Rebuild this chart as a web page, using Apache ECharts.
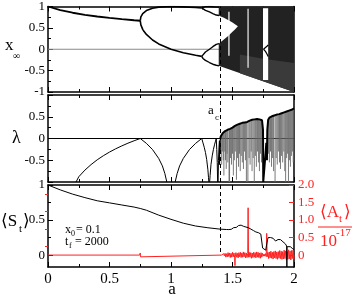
<!DOCTYPE html>
<html><head><meta charset="utf-8">
<script src="https://cdn.jsdelivr.net/npm/echarts@6/dist/echarts.min.js"></script>
<style>html,body{margin:0;padding:0;background:#fff}#c{width:355px;height:296px}</style>
</head><body><div id="c"></div>
<script>
// ---------- tick labels ----------
const xTicks = [0, 0.5, 1, 1.5, 2];
const y1Ticks = [-1, -0.5, 0, 0.5, 1];
const y2Ticks = [-0.5, 0, 0.5];
const y3Ticks = [0, 0.5, 1];
const y3RightTicks = [0, 0.5, 1, 1.5, 2];
const aCritical = 1.401;

// ---------- panel 1: bifurcation diagram [a, x] ----------
const fixedBranch = [[0,1],[0.1,0.916],[0.2,0.854],[0.3,0.805],[0.4,0.766],[0.5,0.732],[0.6,0.703],[0.7,0.678],[0.75,0.667]];
const p2Upper = [[0.75,0.667],[0.755,0.756],[0.76,0.789],[0.77,0.833],[0.78,0.863],[0.8,0.904],[0.85,0.96],[0.9,0.986],[1.0,1.0],[1.1,0.992],[1.2,0.976],[1.25,0.966]];
const p2Lower = [[0.75,0.667],[0.755,0.569],[0.76,0.526],[0.77,0.466],[0.78,0.419],[0.8,0.346],[0.85,0.216],[0.9,0.125],[1.0,0.0],[1.1,-0.083],[1.2,-0.142],[1.25,-0.166]];
const p4a = [[1.25,0.966],[1.26,0.985],[1.28,0.997],[1.3125,1.0],[1.34,0.995],[1.368,0.985],[1.39,0.99]];
const p4b = [[1.25,0.966],[1.26,0.945],[1.28,0.91],[1.3125,0.872],[1.34,0.835],[1.368,0.80],[1.39,0.79]];
const p4c = [[1.25,-0.166],[1.26,-0.12],[1.28,-0.065],[1.3125,0.0],[1.34,0.06],[1.368,0.115],[1.39,0.13]];
const p4d = [[1.25,-0.166],[1.26,-0.215],[1.28,-0.26],[1.3125,-0.31],[1.34,-0.35],[1.368,-0.375],[1.39,-0.39]];
const chaosOutline = [[1.388,1.0],[2.0,1.0],[2.0,-1.0],[1.388,-0.388],[1.388,0.13],[1.40,0.16],[1.43,0.23],[1.46,0.30],[1.50,0.41],[1.52,0.46],[1.544,0.54],[1.52,0.585],[1.50,0.625],[1.46,0.69],[1.43,0.737],[1.40,0.77],[1.388,0.79]];
const sparseRegion = [[1.56,-0.12],[1.75,-0.22],[2.0,-0.32],[2.0,-1.0],[1.56,-0.56]];
const window1 = [[1.466,0.88],[1.476,0.88],[1.476,-0.15],[1.466,-0.15]];
const window2 = [[1.622,0.95],[1.631,0.95],[1.631,-0.43],[1.622,-0.43]];
const window3 = [[1.748,0.96],[1.79,0.96],[1.79,-0.72],[1.748,-0.72]];
const p3ForkUp = [[1.752,0.0],[1.768,0.03],[1.78,0.07],[1.79,0.1]];
const p3ForkDown = [[1.752,0.0],[1.768,-0.05],[1.78,-0.11],[1.79,-0.17]];

// ---------- panel 2: Lyapunov exponent [a, lambda] ----------
const lamFixed = [[0.228,-1.0],[0.25,-0.88],[0.3,-0.727],[0.35,-0.6],[0.4,-0.49],[0.45,-0.396],[0.5,-0.312],[0.55,-0.237],[0.6,-0.17],[0.65,-0.108],[0.7,-0.052],[0.75,0]];
const lamP2a = [[0.75,0],[0.76,-0.02],[0.8,-0.112],[0.85,-0.255],[0.9,-0.458],[0.93,-0.63],[0.95,-0.805],[0.966,-1.0]];
const lamP2b = [[1.034,-1.0],[1.05,-0.805],[1.07,-0.63],[1.1,-0.458],[1.15,-0.255],[1.2,-0.112],[1.25,0]];
const lamP4a = [[1.25,0],[1.26,-0.1],[1.27,-0.2],[1.28,-0.32],[1.29,-0.48],[1.30,-0.72],[1.305,-0.9],[1.308,-1.0]];
const lamP4b = [[1.314,-1.0],[1.318,-0.85],[1.325,-0.6],[1.335,-0.4],[1.345,-0.25],[1.355,-0.13],[1.362,-0.06],[1.368,0],[1.372,-0.25],[1.376,-0.55],[1.379,-1.0]];
const lamEdge = [[1.383,-1.0],[1.386,-0.5],[1.39,-0.2],[1.394,-0.05],[1.395,-0.6],[1.396,-0.1],[1.398,-0.3],[1.401,0.0]];
const lamEnvelope = [[1.401,0.0],[1.405,0.05],[1.41,0.08],[1.415,0.09],[1.42,0.12],[1.425,0.12],[1.43,0.15],[1.435,0.14],[1.44,0.17],[1.45,0.18],[1.46,0.2],[1.47,0.21],[1.48,0.22],[1.49,0.24],[1.50,0.25],[1.51,0.27],[1.52,0.29],[1.53,0.3],[1.54,0.32],[1.55,0.32],[1.56,0.34],[1.57,0.34],[1.58,0.36],[1.59,0.36],[1.60,0.37],[1.61,0.39],[1.62,0.38],[1.63,0.4],[1.64,0.41],[1.65,0.41],[1.66,0.43],[1.67,0.42],[1.68,0.44],[1.69,0.43],[1.70,0.45],[1.71,0.44],[1.72,0.44],[1.73,0.43],[1.74,0.42],[1.745,0.4],[1.748,0.2],[1.75,-1.0],[1.765,-1.0],[1.77,-0.3],[1.775,-0.1],[1.78,-0.5],[1.783,0.2],[1.79,0.43],[1.80,0.48],[1.81,0.49],[1.82,0.51],[1.83,0.51],[1.84,0.53],[1.85,0.53],[1.86,0.55],[1.87,0.55],[1.88,0.56],[1.89,0.57],[1.90,0.58],[1.91,0.59],[1.92,0.6],[1.93,0.61],[1.94,0.62],[1.95,0.63],[1.96,0.64],[1.97,0.66],[1.98,0.66],[1.99,0.68],[2.0,0.69]];
// spikes: [a, top, bottom]
const lamSpikes = [[1.404,0.04,-0.35],[1.412,0.09,-0.6],[1.418,0.1,-0.3],[1.425,0.12,-0.5],[1.430,0.14,-0.85],[1.437,0.15,-0.3],[1.443,0.16,-0.5],[1.449,0.18,-0.7],[1.456,0.19,-0.35],[1.462,0.2,-0.55],[1.472,0.21,-1.0],[1.476,0.21,-1.0],[1.484,0.23,-0.45],[1.492,0.24,-0.6],[1.500,0.25,-0.35],[1.507,0.26,-0.85],[1.515,0.28,-0.5],[1.523,0.3,-0.3],[1.532,0.31,-0.95],[1.541,0.32,-0.45],[1.549,0.32,-0.65],[1.557,0.33,-0.35],[1.563,0.34,-0.75],[1.571,0.34,-0.4],[1.580,0.35,-0.55],[1.589,0.36,-0.7],[1.597,0.37,-0.3],[1.605,0.38,-0.5],[1.613,0.38,-1.0],[1.625,0.39,-1.0],[1.635,0.4,-0.45],[1.643,0.41,-0.6],[1.652,0.41,-0.3],[1.659,0.42,-0.75],[1.668,0.42,-0.45],[1.677,0.43,-1.0],[1.686,0.43,-0.4],[1.694,0.44,-0.65],[1.703,0.44,-0.3],[1.711,0.44,-0.55],[1.719,0.44,-0.75],[1.728,0.43,-0.35],[1.736,0.42,-0.55],[1.792,0.44,-0.35],[1.800,0.48,-0.55],[1.809,0.49,-0.3],[1.817,0.5,-0.65],[1.826,0.51,-0.45],[1.834,0.52,-0.75],[1.846,0.53,-1.0],[1.855,0.54,-0.45],[1.864,0.54,-0.6],[1.873,0.55,-0.3],[1.882,0.56,-0.55],[1.890,0.57,-0.7],[1.899,0.58,-0.4],[1.908,0.59,-0.55],[1.917,0.6,-0.3],[1.925,0.6,-0.75],[1.932,0.61,-1.0],[1.940,0.62,-0.45],[1.948,0.63,-0.35],[1.955,0.64,-1.0],[1.963,0.65,-0.5],[1.971,0.66,-0.65],[1.979,0.67,-0.4],[1.987,0.68,-0.3],[1.994,0.68,-0.55]];

// ---------- panel 3: <S_t> (left axis) and <A_t>/1e-17 (right axis) ----------
const sMean = [[0,1],[0.1,0.93],[0.2,0.87],[0.3,0.82],[0.4,0.775],[0.5,0.745],[0.6,0.715],[0.7,0.685],[0.75,0.665],[0.8,0.64],[0.9,0.57],[1.0,0.51],[1.1,0.455],[1.2,0.415],[1.3,0.39],[1.4,0.37],
[1.45,0.365],[1.46,0.372],[1.47,0.364],[1.48,0.377],[1.49,0.368],[1.50,0.386],[1.51,0.392],[1.52,0.40],[1.53,0.394],[1.54,0.412],[1.55,0.422],[1.56,0.413],[1.57,0.427],[1.58,0.418],[1.59,0.41],[1.60,0.417],[1.61,0.40],[1.62,0.406],[1.63,0.39],[1.64,0.386],[1.65,0.37],[1.66,0.366],[1.67,0.35],[1.68,0.347],[1.69,0.33],[1.70,0.336],[1.71,0.32],[1.72,0.312],[1.73,0.30],[1.74,0.29],[1.745,0.1],[1.75,0.08],[1.76,0.075],[1.77,0.07],[1.78,0.08],[1.785,0.22],[1.79,0.25],[1.80,0.262],[1.81,0.25],[1.82,0.256],[1.83,0.24],[1.84,0.22],[1.85,0.20],[1.86,0.215],[1.87,0.222],[1.88,0.21],[1.89,0.221],[1.90,0.20],[1.91,0.19],[1.92,0.17],[1.93,0.16],[1.94,0.13],[1.942,-0.17],[1.944,0.12],[1.95,0.11],[1.96,0.10],[1.97,0.12],[1.98,0.10],[1.99,0.09],[2.0,0.08]];
const aMean = [[0,0],[0.745,0],[0.75,0.06],[0.752,-0.05],[0.755,0],[1.41,0],
[1.416,0.02],[1.422,-0.03],[1.428,0.04],[1.434,-0.02],[1.440,0.05],[1.446,-0.06],[1.452,0.04],[1.458,-0.05],[1.464,0.07],[1.470,-0.04],[1.476,0.06],[1.482,-0.07],[1.488,0.05],[1.494,-0.06],[1.500,0.08],[1.506,-0.05],[1.512,0.06],[1.518,-0.08],[1.520,-0.3],[1.522,-0.05],[1.528,0.07],[1.534,-0.06],[1.540,0.05],[1.546,-0.08],[1.552,0.07],[1.558,-0.05],[1.564,0.08],[1.570,-0.07],[1.576,0.06],[1.582,-0.06],[1.588,0.09],[1.594,-0.05],[1.600,0.07],[1.606,-0.08],[1.612,0.06],[1.618,-0.07],[1.624,0.05],[1.627,1.35],[1.630,-0.06],[1.636,0.08],[1.642,-0.06],[1.648,0.07],[1.654,-0.09],[1.660,0.06],[1.666,-0.07],[1.672,0.08],[1.678,-0.06],[1.684,0.07],[1.690,-0.08],[1.696,0.09],[1.702,-0.06],[1.708,0.08],[1.714,-0.07],[1.720,0.06],[1.726,-0.09],[1.732,0.07],[1.738,-0.06],[1.744,0.05],[1.750,-0.03],[1.756,0.03],[1.762,-0.03],[1.768,0.04],[1.774,-0.04],[1.778,0.62],[1.782,-0.05],[1.788,0.08],[1.794,-0.1],[1.800,0.09],[1.806,-0.08],[1.812,0.11],[1.818,-0.09],[1.824,0.08],[1.830,-0.11],[1.836,0.1],[1.842,-0.08],[1.848,0.12],[1.854,-0.1],[1.860,0.09],[1.866,-0.12],[1.872,0.1],[1.878,-0.09],[1.884,0.13],[1.890,-0.1],[1.896,0.11],[1.902,-0.12],[1.908,0.1],[1.914,-0.11],[1.920,0.14],[1.926,-0.1],[1.932,0.12],[1.938,-0.13],[1.944,0.1],[1.950,-0.12],[1.956,0.15],[1.962,-0.11],[1.968,0.12],[1.974,-0.14],[1.980,0.13],[1.986,-0.1],[1.992,0.14],[1.998,-0.12],[2.0,0.0]];

// ---------- build chart ----------
const FONT = "'Liberation Serif', 'DejaVu Serif', serif";
const RED = '#ff2020';
const chart = echarts.init(document.getElementById('c'), null, {renderer: 'canvas'});

const grids = [
  {left: 48, top: 5, width: 246, height: 87},
  {left: 48, top: 95, width: 246, height: 87},
  {left: 48, top: 185, width: 246, height: 82}
];
function xAx(gi, pos, labels) {
  return {type: 'value', gridIndex: gi, position: pos, min: 0, max: 2, interval: 0.5,
    axisLine: {show: true, onZero: false, lineStyle: {color: '#000', width: 1.5}},
    axisTick: {show: true, inside: true, length: 5, lineStyle: {color: '#000'}},
    minorTick: {show: true, splitNumber: 2, length: 3, lineStyle: {color: '#000'}},
    splitLine: {show: false}, minorSplitLine: {show: false},
    axisLabel: {show: labels, margin: 5, fontFamily: FONT, fontSize: 15, color: '#000',
      formatter: v => xTicks.includes(v) ? String(v) : ''}};
}
function yAx(gi, pos, min, max, opts) {
  return Object.assign({type: 'value', gridIndex: gi, position: pos, min: min, max: max,
    axisLine: {show: true, onZero: false, lineStyle: {color: '#000', width: 1.5}},
    splitLine: {show: false}}, opts);
}
const yLabelStyle = {margin: 3, fontFamily: FONT, fontSize: 13, color: '#000'};

const xAxis = [xAx(0,'bottom',false), xAx(0,'top',false), xAx(1,'bottom',false), xAx(1,'top',false), xAx(2,'bottom',true), xAx(2,'top',false)];
const yAxis = [
  yAx(0,'left',-1,1,{interval:0.5, axisTick:{inside:true,length:5,lineStyle:{color:'#000'}}, minorTick:{show:true,splitNumber:2,length:3,lineStyle:{color:'#000'}},
     axisLabel:Object.assign({formatter: v => y1Ticks.includes(v) ? String(v) : ''}, yLabelStyle)}),
  yAx(1,'left',-1,1,{interval:0.5, axisTick:{inside:true,length:5,lineStyle:{color:'#000'}}, minorTick:{show:true,splitNumber:2,length:3,lineStyle:{color:'#000'}},
     axisLabel:Object.assign({formatter: v => y2Ticks.includes(v) ? String(v) : ''}, yLabelStyle)}),
  yAx(2,'left',-0.17,1,{axisTick:{inside:true,length:5,customValues:y3Ticks,lineStyle:{color:'#000'}},
     axisLabel:Object.assign({customValues:y3Ticks, formatter: v => String(v)}, yLabelStyle)}),
  yAx(2,'right',-0.34,2,{axisTick:{inside:true,length:5,customValues:y3RightTicks,lineStyle:{color:RED}},
     axisLabel:{customValues:y3RightTicks, margin:4, fontFamily:FONT, fontSize:13, color:RED, formatter: v => v === 0 ? '0' : v.toFixed(1)}}),
  yAx(0,'right',-1,1,{axisTick:{show:false}, axisLabel:{show:false}}),
  yAx(1,'right',-1,1,{axisTick:{show:false}, axisLabel:{show:false}}),
  yAx(2,'left',-0.17,1,{axisLine:{show:false}, axisTick:{inside:true,length:3,customValues:[0.25,0.75],lineStyle:{color:'#000'}}, axisLabel:{show:false}}),
  yAx(2,'right',-0.34,2,{axisLine:{show:false}, axisTick:{inside:true,length:3,customValues:[0.25,0.75,1.25,1.75],lineStyle:{color:RED}}, axisLabel:{show:false}})
];

function line(data, xi, yi, color, width, z, extra) {
  return Object.assign({type: 'line', data: data, xAxisIndex: xi, yAxisIndex: yi, showSymbol: false, symbol: 'none',
    lineStyle: {color: color, width: width}, z: z, animation: false, silent: true}, extra || {});
}
function polySeries(polys, fills, xi, yi, z) {
  return {type: 'custom', xAxisIndex: xi, yAxisIndex: yi, z: z, silent: true, animation: false,
    data: polys.map(p => p[0]),
    renderItem: function (params, api) {
      const pts = polys[params.dataIndex].map(q => api.coord(q));
      return {type: 'polygon', shape: {points: pts}, style: {fill: fills[params.dataIndex]}};
    }};
}
function spikeSeries(spikes, xi, yi, color, width, z) {
  return {type: 'custom', xAxisIndex: xi, yAxisIndex: yi, z: z, silent: true, animation: false, clip: true,
    data: spikes,
    renderItem: function (params, api) {
      const p1 = api.coord([api.value(0), api.value(1)]);
      const p2 = api.coord([api.value(0), api.value(2)]);
      return {type: 'line', shape: {x1: p1[0], y1: p1[1], x2: p2[0], y2: p2[1]}, style: {stroke: color, lineWidth: width}};
    }};
}
const dashed = {type: [4, 3], color: '#000', width: 1};
function vMark(data) { return {markLine: {silent: true, symbol: 'none', label: {show: false}, lineStyle: dashed, data: data, animation: false}}; }

const series = [
  // panel 1
  line([[0,0],[2,0]], 0, 0, '#8a8a8a', 1, 1),
  polySeries([chaosOutline, sparseRegion], ['#222222', '#3a3a3a'], 0, 0, 2),
  polySeries([window1, window2, window3], ['#ffffff', '#ffffff', '#ffffff'], 0, 0, 3),
  line(fixedBranch, 0, 0, '#000', 1.8, 4),
  line(p2Upper, 0, 0, '#000', 1.6, 4),
  line(p2Lower, 0, 0, '#000', 1.6, 4),
  line(p4a, 0, 0, '#000', 1.4, 4),
  line(p4b, 0, 0, '#000', 1.4, 4),
  line(p4c, 0, 0, '#000', 1.4, 4),
  line(p4d, 0, 0, '#000', 1.4, 4),
  line(p3ForkUp, 0, 0, '#000', 1.2, 4),
  line(p3ForkDown, 0, 0, '#000', 1.2, 4),
  line([], 0, 0, '#000', 1, 6, vMark([{xAxis: aCritical}])),
  // panel 2
  line([[0,0],[2,0]], 2, 1, '#000', 1, 1, vMark([{xAxis: aCritical}])),
  line(lamFixed, 2, 1, '#000', 1, 3),
  line(lamP2a, 2, 1, '#000', 1, 3),
  line(lamP2b, 2, 1, '#000', 1, 3),
  line(lamP4a, 2, 1, '#000', 1, 3),
  line(lamP4b, 2, 1, '#000', 1, 3),
  line(lamEdge, 2, 1, '#000', 1, 3),
  spikeSeries(lamSpikes, 2, 1, '#6a6a6a', 0.9, 3),
  line(lamEnvelope, 2, 1, '#000', 2, 4),
  // panel 3
  line(aMean, 4, 3, RED, 1, 3),
  line(sMean, 4, 2, '#000', 1, 4, vMark([[{coord: [aCritical, 1]}, {coord: [aCritical, 0]}]]))
];

function txt(x, y, s, size, color, align) {
  return {type: 'text', x: x, y: y, silent: true, z: 100,
    style: {text: s, font: size + 'px ' + FONT, fill: color || '#000', align: align || 'left', verticalAlign: 'middle'}};
}
const graphic = [
  txt(5, 46, 'x', 17), txt(13, 56, '∞', 10),
  txt(12, 138, 'λ', 18),
  txt(1, 222, '⟨S', 17), txt(19, 229, 't', 11), txt(23, 222, '⟩', 17),
  txt(172, 290, 'a', 17, '#000', 'center'),
  txt(208, 111, 'a', 13), txt(215, 118, 'c', 9),
  txt(65, 230, 'x', 12), txt(71, 234, '0', 8), txt(76, 230, '= 0.1', 12),
  txt(65, 242, 't', 12), txt(69, 246, 'f', 8), txt(75, 242, '= 2000', 12),
  txt(320, 213, '⟨A', 17, RED), txt(339, 219, 't', 11, RED), txt(344, 213, '⟩', 17, RED),
  {type: 'line', silent: true, z: 100, shape: {x1: 318, y1: 227, x2: 352, y2: 227}, style: {stroke: RED, lineWidth: 1}},
  txt(320, 242, '10', 17, RED), txt(336, 233, '-17', 11, RED)
];

chart.setOption({animation: false, backgroundColor: '#fff', grid: grids, xAxis: xAxis, yAxis: yAxis, series: series, graphic: graphic});
</script></body></html>
